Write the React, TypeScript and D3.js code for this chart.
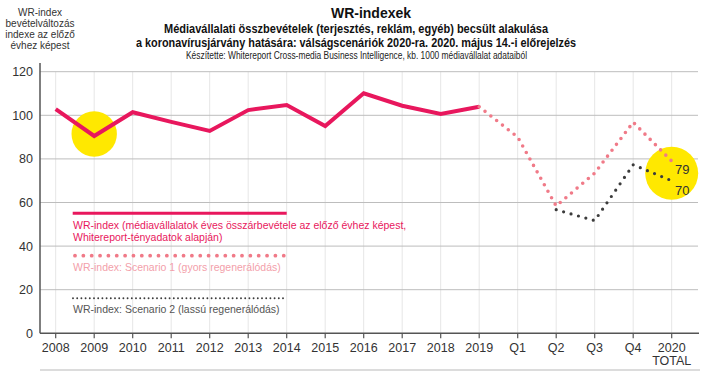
import React from "react";
import * as d3 from "d3";

const categories = ["2008","2009","2010","2011","2012","2013","2014","2015","2016","2017","2018","2019","Q1","Q2","Q3","Q4","2020"];
const yTicks = [0, 20, 40, 60, 80, 100, 120];
const wrIndex = [102.8, 90.5, 101.4, 97, 92.8, 102.4, 104.7, 95.1, 110.1, 104.4, 100.6, 103.9];
const scenario1Cats = ["2019","Q1","Q2","Q3","Q4","2020"];
const scenario1 = [103.9, 90, 58.4, 73.5, 96.8, 79];
const scenario2Cats = ["Q2","Q3","Q4","2020"];
const scenario2 = [56.7, 51.7, 77.3, 70];
const highlights = [{ cat: "2009", value: 91.4, r: 22.7 }, { cat: "2020", value: 73.4, r: 26.5 }];
const endLabels = [{ text: "79", value: 79 }, { text: "70", value: 70 }];
const titleLines = [
  "Médiavállalati összbevételek (terjesztés, reklám, egyéb) becsült alakulása",
  "a koronavírusjárvány hatására: válságscenáriók 2020-ra. 2020. május 14.-i előrejelzés",
];
const titleWidths = [384, 440];
const subtitle = "Készítette: Whitereport Cross-media Business Intelligence, kb. 1000 médiavállalat adataiból";
const yLabel = ["WR-index", "bevételváltozás", "indexe az előző", "évhez képest"];

const FONT = "'Liberation Sans', Arial, Helvetica, sans-serif";
const PINK = "#E8175D";
const LIGHTPINK = "#F07A88";
const DARK = "#3c3c3c";

export default function App() {
  const W = 708, H = 371;
  const x = d3.scaleLinear().domain([0, 16]).range([55.7, 671.7]);
  const xc = (c: string) => x(categories.indexOf(c));
  const y = d3.scaleLinear().domain([0, 120]).range([333.3, 71.7]);
  const left = 40, right = 698;
  const line = d3.line<[number, number]>().x(d => d[0]).y(d => d[1]);

  const p0 = line(wrIndex.map((v, i) => [xc(categories[i]), y(v)]))!;
  const p1 = line(scenario1.map((v, i) => [xc(scenario1Cats[i]), y(v)]))!;
  const p2 = line(scenario2.map((v, i) => [xc(scenario2Cats[i]), y(v)]))!;

  return (
    <svg width={W} height={H} style={{ position: "absolute", left: 0, top: 0, background: "#fff" }} fontFamily={FONT}>
      <rect width={W} height={H} fill="#fff" />
      {/* titles */}
      <text x={371} y={18} textAnchor="middle" fontSize={14} fontWeight="bold" fill="#111">WR-indexek</text>
      {titleLines.map((t, i) => (
        <text key={i} x={356} y={32.5 + i * 14} textAnchor="middle" fontSize={12.2} fontWeight="bold" fill="#111"
          textLength={titleWidths[i]} lengthAdjust="spacingAndGlyphs">{t}</text>
      ))}
      <text x={356.5} y={58.5} textAnchor="middle" fontSize={10.5} fill="#222" textLength={341} lengthAdjust="spacingAndGlyphs">{subtitle}</text>
      {yLabel.map((t, i) => (
        <text key={i} x={40} y={15.5 + i * 11} textAnchor="middle" fontSize={10} fill="#333">{t}</text>
      ))}
      {/* vertical grid */}
      {categories.map((c, i) => (
        <line key={c} x1={x(i)} x2={x(i)} y1={y(120)} y2={y(0)} stroke="#e6e6e6" strokeWidth={1} />
      ))}
      {/* horizontal grid */}
      {yTicks.filter(t => t > 0).map(t => (
        <line key={t} x1={left} x2={right} y1={y(t)} y2={y(t)} stroke="#bdbdbd" strokeWidth={1} />
      ))}
      {/* axes */}
      <line x1={left} x2={left} y1={63} y2={y(0)} stroke="#555" strokeWidth={1.5} />
      <line x1={left} x2={right + 1} y1={y(0)} y2={y(0)} stroke="#555" strokeWidth={1.5} />
      {categories.map((c, i) => (
        <line key={"t" + c} x1={x(i)} x2={x(i)} y1={y(0)} y2={y(0) + 5} stroke="#555" strokeWidth={1.2} />
      ))}
      {yTicks.map(t => (
        <text key={"y" + t} x={33} y={y(t) + 4.5} textAnchor="end" fontSize={12.5} fill="#333">{t}</text>
      ))}
      {categories.map((c, i) => (
        <text key={"x" + c} x={x(i)} y={351.7} textAnchor="middle" fontSize={12.5} fill="#333">{c}</text>
      ))}
      <text x={x(16)} y={364.5} textAnchor="middle" fontSize={12.5} fill="#333">TOTAL</text>
      <line x1={left} x2={right + 2} y1={370} y2={370} stroke="#dcdcdc" strokeWidth={2} />
      {/* highlights */}
      {highlights.map((h, i) => (
        <circle key={i} cx={xc(h.cat)} cy={y(h.value)} r={h.r} fill="#FFE800" />
      ))}
      {/* series */}
      <path d={p0} fill="none" stroke={PINK} strokeWidth={4} strokeLinejoin="miter" />
      <path d={p1} fill="none" stroke={LIGHTPINK} strokeWidth={3.6} strokeLinecap="round" strokeDasharray="0 7.4" />
      <path d={p2} fill="none" stroke={DARK} strokeWidth={3.2} strokeLinecap="round" strokeDasharray="0 7.7" />
      {endLabels.map((l, i) => (
        <text key={i} x={675} y={i === 0 ? 174.3 : 195} fontSize={13} fill="#333">{l.text}</text>
      ))}
      {/* legend */}
      <line x1={72.7} x2={286.7} y1={213.3} y2={213.3} stroke={PINK} strokeWidth={3} />
      <text x={73} y={229.3} fontSize={10.5} fill={PINK}>WR-index (médiavállalatok éves összárbevétele az előző évhez képest,</text>
      <text x={73} y={240.8} fontSize={10.5} fill={PINK}>Whitereport-tényadatok alapján)</text>
      <line x1={75} x2={286} y1={255.7} y2={255.7} stroke={LIGHTPINK} strokeWidth={3.8} strokeLinecap="round" strokeDasharray="0 8.35" />
      <text x={73} y={270.7} fontSize={10.5} fill="#F3A0AA">WR-index: Scenario 1 (gyors regenerálódás)</text>
      <line x1={73} x2={284} y1={298.3} y2={298.3} stroke={DARK} strokeWidth={1.9} strokeLinecap="round" strokeDasharray="0 4.2" />
      <text x={73} y={313.3} fontSize={10.5} fill="#555">WR-index: Scenario 2 (lassú regenerálódás)</text>
    </svg>
  );
}
